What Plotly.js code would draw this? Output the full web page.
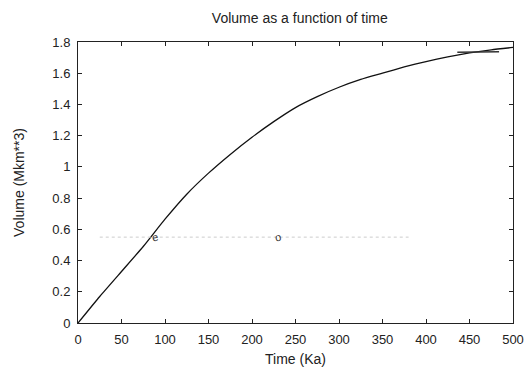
<!DOCTYPE html>
<html>
<head>
<meta charset="utf-8">
<script src="https://cdn.plot.ly/plotly-3.0.1.min.js"></script>
<style>html,body{margin:0;padding:0;background:#fff;}#chart{width:525px;height:367px;}</style>
</head>
<body>
<div id="chart"></div>
<script>
var timeKa = [0, 25, 50, 75, 100, 125, 150, 175, 200, 225, 250, 275, 300, 325, 350, 375, 400, 425, 450, 475, 500];
var volume = [0, 0.17, 0.33, 0.49, 0.665, 0.825, 0.96, 1.08, 1.19, 1.29, 1.38, 1.45, 1.51, 1.56, 1.60, 1.64, 1.675, 1.705, 1.73, 1.75, 1.765];
var xTicks = [0, 50, 100, 150, 200, 250, 300, 350, 400, 450, 500];
var yTicks = [0, 0.2, 0.4, 0.6, 0.8, 1, 1.2, 1.4, 1.6, 1.8];

var font = "Liberation Sans, Arial, sans-serif";
var axisCommon = {
  showgrid: false, zeroline: false, showline: true, linecolor: '#222', linewidth: 1,
  mirror: 'ticks', ticks: 'inside', ticklen: 4, tickcolor: '#222', tickwidth: 1,
  tickfont: {family: font, size: 13, color: '#222'}
};
var layout = {
  width: 525, height: 367,
  margin: {l: 78, r: 12, t: 42, b: 44},
  paper_bgcolor: '#fff', plot_bgcolor: '#fff',
  showlegend: false,
  title: {text: 'Volume as a function of time', font: {family: font, size: 14, color: '#222'}, x: 0.571, xanchor: 'center', y: 0.95, yanchor: 'middle'},
  xaxis: Object.assign({}, axisCommon, {range: [0, 500], tickvals: xTicks, ticktext: xTicks.map(String), ticklabelstandoff: 4,
    title: {text: 'Time (Ka)', font: {family: font, size: 14, color: '#222'}, standoff: 9}}),
  yaxis: Object.assign({}, axisCommon, {range: [0, 1.8], tickvals: yTicks, ticktext: yTicks.map(String), ticklabelstandoff: 4,
    title: {text: 'Volume (Mkm**3)', font: {family: font, size: 14, color: '#222'}, standoff: 24}}),
  shapes: [
    {type: 'line', xref: 'x', yref: 'y', x0: 25, x1: 380, y0: 0.55, y1: 0.55, line: {color: '#ccc', width: 1, dash: 'dot'}},
    {type: 'line', xref: 'x', yref: 'y', x0: 436, x1: 484, y0: 1.735, y1: 1.738, line: {color: '#333', width: 1.5}}
  ],
  annotations: [
    {x: 88, y: 0.55, xref: 'x', yref: 'y', text: 'e', showarrow: false, font: {family: font, size: 11, color: '#333'}, textangle: -10},
    {x: 230, y: 0.55, xref: 'x', yref: 'y', text: 'o', showarrow: false, font: {family: font, size: 11, color: '#333'}, textangle: -10}
  ]
};
var trace = {x: timeKa, y: volume, type: 'scatter', mode: 'lines', line: {color: '#111', width: 1.3, shape: 'spline', smoothing: 0.5}, hoverinfo: 'skip'};
Plotly.newPlot('chart', [trace], layout, {displayModeBar: false, staticPlot: true});
</script>
</body>
</html>
